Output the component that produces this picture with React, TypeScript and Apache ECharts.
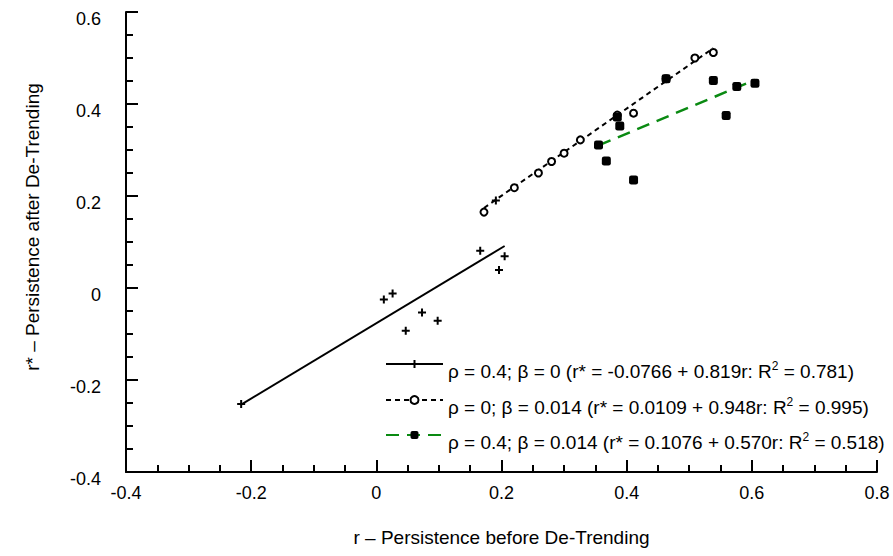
import React, { useEffect, useRef } from 'react';
import * as echarts from 'echarts';

// Regression labels
const rho = ['0.4', '0', '0.4'];
const beta = ['0', '0.014', '0.014'];
const intercepts = ['-0.0766', '0.0109', '0.1076'];
const slopes = ['0.819', '0.948', '0.570'];
const rSquared = ['0.781', '0.995', '0.518'];

// rho = 0.4; beta = 0 (plus markers)
const plusX = [-0.216, 0.012, 0.026, 0.047, 0.073, 0.098, 0.166, 0.191, 0.196, 0.205];
const plusY = [-0.252, -0.025, -0.012, -0.093, -0.053, -0.071, 0.081, 0.19, 0.039, 0.069];

// rho = 0; beta = 0.014 (open circles)
const circX = [0.172, 0.2205, 0.259, 0.28, 0.3, 0.326, 0.385, 0.411, 0.463, 0.509, 0.5385];
const circY = [0.165, 0.218, 0.25, 0.275, 0.293, 0.322, 0.376, 0.38, 0.455, 0.5, 0.512];

// rho = 0.4; beta = 0.014 (filled squares)
const sqX = [0.355, 0.3675, 0.385, 0.389, 0.411, 0.463, 0.5385, 0.559, 0.576, 0.605];
const sqY = [0.311, 0.276, 0.372, 0.352, 0.235, 0.455, 0.451, 0.375, 0.438, 0.445];

const xTitle = 'r \u2013 Persistence before De-Trending';
const yTitle = 'r* \u2013 Persistence after De-Trending';

const PLUS = 'path://M3,0H5V3H8V5H5V8H3V5H0V3H3Z';
const FONT = 'Liberation Sans, Arial, sans-serif';

export default function App() {
  const ref = useRef<HTMLDivElement>(null);
  useEffect(() => {
    const chart = echarts.init(ref.current!, null, { renderer: 'svg' });
    const groups = [
      { x: plusX, y: plusY, symbol: PLUS, size: 8, lineColor: '#000', width: 2, dash: 'solid' as any },
      { x: circX, y: circY, symbol: 'emptyCircle', size: 7, lineColor: '#000', width: 2, dash: [5, 4] },
      { x: sqX, y: sqY, symbol: 'roundRect', size: 9, lineColor: '#0a8a12', width: 2.5, dash: [13, 8] },
    ];
    const series: any[] = [];
    const legendData: any[] = [];
    groups.forEach((g, i) => {
      const a = parseFloat(intercepts[i]);
      const b = parseFloat(slopes[i]);
      const xmin = Math.min(...g.x);
      const xmax = Math.max(...g.x);
      const name = 'fit' + i;
      legendData.push({ name });
      series.push({
        name,
        type: 'line',
        data: [[xmin, a + b * xmin], [xmax, a + b * xmax]],
        showSymbol: false,
        symbol: g.symbol,
        symbolSize: g.size,
        itemStyle: { color: '#000', borderWidth: 1.5 },
        lineStyle: { color: g.lineColor, width: g.width, type: g.dash },
        z: 2,
        silent: true,
      });
      series.push({
        name: 'pts' + i,
        type: 'scatter',
        data: g.x.map((v, k) => [v, g.y[k]]),
        symbol: g.symbol,
        symbolSize: g.size,
        itemStyle: { color: '#000', borderWidth: 1.6, opacity: 1 },
        z: 3 + i,
        silent: true,
      });
    });

    const axisCommon = {
      type: 'value',
      axisLine: { show: true, onZero: false, lineStyle: { color: '#000', width: 2 } },
      axisTick: { show: true, inside: true, length: 12, lineStyle: { color: '#000', width: 2 } },
      minorTick: { show: true, splitNumber: 4, length: 7, lineStyle: { color: '#000', width: 2 } },
      splitLine: { show: false },
      minorSplitLine: { show: false },
    };

    chart.setOption({
      animation: false,
      backgroundColor: '#fff',
      grid: { left: 126, right: 16, top: 12, bottom: 84 },
      xAxis: {
        ...axisCommon,
        min: -0.4,
        max: 0.8,
        interval: 0.2,
        axisLabel: { color: '#000', fontSize: 18, fontFamily: FONT, margin: 12 },
        name: xTitle,
        nameLocation: 'middle',
        nameGap: 56,
        nameTextStyle: { color: '#000', fontSize: 19, fontFamily: FONT },
      },
      yAxis: {
        ...axisCommon,
        min: -0.4,
        max: 0.6,
        interval: 0.2,
        axisLabel: {
          color: '#000',
          fontSize: 18,
          fontFamily: FONT,
          margin: 25,
          verticalAlign: 'top',
          lineHeight: 14,
        },
      },
      legend: {
        orient: 'vertical',
        left: 385,
        top: 360,
        padding: 0,
        itemWidth: 57,
        itemHeight: 10,
        itemGap: 14.5,
        selectedMode: false,
        data: legendData,
        formatter: (name: string) => {
          const i = parseInt(name.replace('fit', ''), 10);
          return `{a|\u03c1 = ${rho[i]}; \u03b2 = ${beta[i]} (r* = ${intercepts[i]} + ${slopes[i]}r: R}{s|2}{a| = ${rSquared[i]})}`;
        },
        textStyle: {
          color: '#000',
          fontSize: 19,
          fontFamily: FONT,
          padding: [14, 0, 0, 0],
          rich: {
            a: { color: '#000', fontSize: 19, fontFamily: FONT, lineHeight: 22 },
            s: { color: '#000', fontSize: 12, fontFamily: FONT, lineHeight: 12, verticalAlign: 'top' },
          },
        },
      },
      graphic: [
        {
          type: 'text',
          x: 32,
          y: 227,
          rotation: Math.PI / 2,
          style: {
            text: yTitle,
            font: `19px ${FONT}`,
            fill: '#000',
            textAlign: 'center',
            textVerticalAlign: 'middle',
          },
        },
      ],
      series,
    });
    return () => chart.dispose();
  }, []);
  return <div ref={ref} style={{ position: 'fixed', left: 0, top: 0, width: 893, height: 556 }} />;
}
